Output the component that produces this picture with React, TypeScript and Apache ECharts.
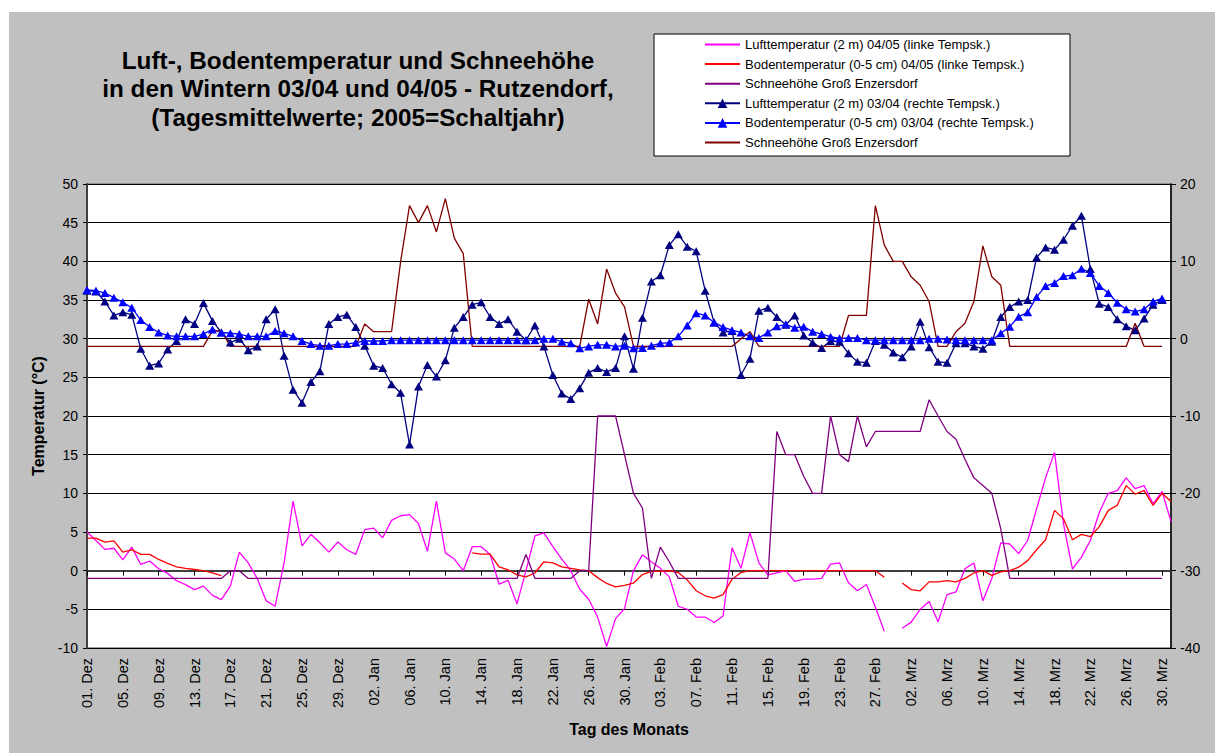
import React, { useEffect, useRef } from "react";
import * as echarts from "echarts";

const FONT = '"Liberation Sans", Arial, sans-serif';

const months: [string, number][] = [["Dez", 31], ["Jan", 31], ["Feb", 29], ["Mrz", 31]];
const categories: string[] = [];
months.forEach(([m, n]) => {
  for (let d = 1; d <= n; d++) categories.push(`${String(d).padStart(2, "0")}. ${m}`);
});

const titleLines = [
  "Luft-, Bodentemperatur und Schneehöhe",
  "in den Wintern 03/04 und 04/05 - Rutzendorf,",
  "(Tagesmittelwerte; 2005=Schaltjahr)",
];

const seriesNames = [
  "Lufttemperatur (2 m) 04/05 (linke Tempsk.)",
  "Bodentemperatur (0-5 cm) 04/05 (linke Tempsk.)",
  "Schneehöhe Groß Enzersdorf",
  "Lufttemperatur (2 m) 03/04 (rechte Tempsk.)",
  "Bodentemperatur (0-5 cm) 03/04 (rechte Tempsk.)",
  "Schneehöhe Groß Enzersdorf ",
];

const leftTicks = { min: -10, max: 50, interval: 5 };
const rightTicks = { min: -40, max: 20, interval: 10 };

// 04/05 — left scale
const air0405 = [
  5.0, 3.9, 2.75, 2.9, 1.4, 3.05, 0.8, 1.25, 0.25, -0.35,
  -1.3, -1.8, -2.45, -2.0, -3.2, -3.75, -2.0, 2.4, 1.0, -1.0,
  -3.9, -4.6, 1.0, 9.0, 3.2, 4.7, 3.6, 2.4, 3.7, 2.7,
  2.1, 5.3, 5.5, 4.25, 6.5, 7.1, 7.25, 6.1, 2.5, 9.0,
  2.3, 1.5, 0.0, 3.1, 3.1, 2.1, -1.75, -1.25, -4.3, 0.0,
  4.5, 4.9, 3.1, 1.5, 0.0, -2.4, -3.7, -6.0, -9.8, -6.2,
  -4.9, 0.0, 2.05, 1.15, 0.3, -0.8, -4.6, -5.0, -6.0, -6.0,
  -6.7, -5.85, 2.95, 0.3, 4.9, 1.0, -0.55, -0.3, 0.0, -1.4,
  -1.1, -1.1, -1.0, 0.85, 1.0, -1.55, -2.6, -1.8, -4.7, -7.85,
  null, -7.45, -6.65, -5.0, -4.0, -6.6, -3.1, -2.75, 0.25, 1.0,
  -3.9, -1.0, 3.6, 3.45, 2.2, 3.9, 8.0, 12.0, 15.3, 6.05,
  0.2, 1.75, 3.9, 7.55, 10.0, 10.35, 12.0, 10.6, 11.0, 8.65,
  10.25, 6.35,
];

const soil0405 = [
  4.2, 4.2, 3.7, 3.85, 2.4, 2.7, 2.1, 2.1, 1.45, 0.95,
  0.5, 0.3, 0.15, 0.0, -0.3, -0.65, null, null, null, null,
  null, null, null, null, null, null, null, null, null, null,
  null, null, null, null, null, null, null, null, null, null,
  null, null, null, 2.3, 2.15, 2.15, 0.5, 0.1, -0.55, -0.8,
  -0.3, 1.15, 1.0, 0.5, 0.3, 0.1, 0.0, -0.9, -1.65, -2.1,
  -1.9, -1.6, -0.5, -0.1, -0.1, 0.0, -0.25, -1.2, -2.6, -3.25,
  -3.55, -3.1, -1.1, -0.25, 0.0, 0.0, 0.0, 0.0, 0.0, 0.0,
  0.0, 0.0, 0.0, 0.0, 0.0, 0.0, 0.0, 0.0, 0.0, -0.85,
  null, -1.6, -2.45, -2.6, -1.45, -1.45, -1.3, -1.45, -1.0, -0.3,
  0.0, -0.6, -0.15, 0.0, 0.45, 1.3, 2.7, 4.0, 7.8, 6.7,
  4.0, 4.7, 4.4, 5.7, 7.8, 8.45, 11.0, 9.9, 10.35, 8.45,
  10.0, 8.95,
];

const snow0405 = [
  -1, -1, -1, -1, -1, -1, -1, -1, -1, -1,
  -1, -1, -1, -1, -1, -1, 0, 0, -1, -1,
  -1, -1, -1, -1, -1, -1, -1, -1, -1, -1,
  -1, -1, -1, -1, -1, -1, -1, -1, -1, -1,
  -1, -1, -1, -1, -1, -1, -1, -1, -1, 2.1,
  -1, -1, -1, -1, -1, 0, 0, 20, 20, 20,
  15, 10, 8.1, -1, 3.05, 1.15, -1, -1, -1, -1,
  -1, -1, -1, -1, -1, -1, -1, 18, 15, 15,
  12.2, 10, 10, 20, 15, 14.1, 20, 16, 18, 18,
  18, 18, 18, 18, 22.1, 20, 18, 17, 14.4, 12,
  11, 10, 5.4, -1, -1, -1, -1, -1, -1, -1,
  -1, -1, -1, -1, -1, -1, -1, -1, -1, -1,
  -1, null,
];

// 03/04 — right scale
const air0304 = [
  6.2, 6.1, 4.8, 3.0, 3.4, 3.1, -1.3, -3.5, -3.2, -1.4,
  -0.3, 2.5, 1.9, 4.6, 2.3, 0.8, -0.5, 0.0, -1.5, -1.0,
  2.5, 3.8, -2.2, -6.6, -8.3, -5.6, -4.2, 1.9, 2.8, 3.1,
  1.5, -0.9, -3.5, -3.8, -5.9, -7.0, -13.7, -6.2, -3.4, -4.9,
  -2.8, 1.4, 2.8, 4.4, 4.7, 2.8, 1.9, 2.5, 0.9, -0.2,
  1.7, -1.0, -4.7, -7.1, -7.8, -6.4, -4.4, -3.8, -4.3, -3.8,
  0.3, -3.9, 2.7, 7.4, 8.2, 12.1, 13.5, 11.9, 11.3, 6.2,
  2.1, 0.8, 1.0, -4.7, -2.6, 3.6, 4.0, 2.8, 1.8, 3.0,
  0.4, -0.5, -1.2, -0.3, -0.4, -1.9, -3.0, -3.1, -0.3, -0.8,
  -1.8, -2.4, -1.0, 2.2, -1.1, -3.0, -3.1, -0.6, -0.6, -1.0,
  -1.3, -0.4, 2.8, 4.1, 4.8, 5.0, 10.5, 11.8, 11.5, 12.8,
  14.6, 15.9, 9.0, 4.5, 4.1, 2.5, 1.6, 1.1, 2.6, 4.4,
  5.0, null,
];

const soil0304 = [
  6.3, 6.2, 5.9, 5.3, 4.7, 4.0, 2.4, 1.5, 0.8, 0.4,
  0.3, 0.3, 0.3, 0.6, 1.2, 0.8, 0.7, 0.6, 0.3, 0.3,
  0.3, 1.0, 0.7, 0.3, -0.3, -0.7, -0.9, -0.9, -0.7, -0.7,
  -0.5, -0.3, -0.3, -0.3, -0.2, -0.2, -0.2, -0.2, -0.2, -0.2,
  -0.2, -0.2, -0.2, -0.2, -0.2, -0.2, -0.2, -0.2, -0.2, -0.2,
  -0.2, 0.0, 0.0, -0.4, -0.6, -1.25, -1.0, -0.8, -0.8, -1.0,
  -0.9, -1.25, -1.2, -0.9, -0.6, -0.5, 0.3, 1.7, 3.3, 3.0,
  2.1, 1.5, 1.1, 0.8, 0.3, 0.1, 0.8, 1.6, 1.85, 1.4,
  1.55, 0.9, 0.6, 0.26, 0.05, 0.1, 0.1, -0.2, -0.2, -0.2,
  -0.2, -0.2, -0.2, -0.2, 0.0, 0.0, -0.1, -0.2, -0.2, -0.2,
  -0.2, -0.2, 0.7, 1.55, 2.85, 3.4, 5.4, 6.8, 7.2, 8.1,
  8.2, 9.05, 8.5, 6.8, 5.9, 4.65, 3.8, 3.5, 3.8, 4.8,
  5.2, null,
];

const snow0304 = [
  -1, -1, -1, -1, -1, -1, -1, -1, -1, -1,
  -1, -1, -1, -1, 1.0, 1.0, -1, -1, -1, -1,
  -1, -1, -1, -1, -1, -1, -1, -1, -1, -1,
  -1, 1.9, 0.9, 0.9, 0.9, 9.9, 17.2, 15.0, 17.2, 13.8,
  18.1, 13.0, 11.0, -1, -1, -1, -1, -1, -1, -1,
  -1, -1, -1, -1, -1, -1, 5.1, 1.9, 9.0, 5.9,
  4.1, -1, -1, -1, -1, -1, -1, -1, -1, -1,
  -1, -1, -1, 0.0, 0.9, -1, -1, -1, -1, -1,
  -1, -1, -1, -1, -1, 3.0, 3.0, 3.0, 17.2, 12.1,
  10.0, 10.0, 8.0, 6.9, 4.8, -1, -1, 0.9, 2.0, 4.8,
  12.0, 8.0, 6.9, -1, -1, -1, -1, -1, -1, -1,
  -1, -1, -1, -1, -1, -1, -1, 2.0, -1, -1,
  -1, null,
];

const colors = ["#FF00FF", "#FF0000", "#800080", "#000080", "#0000FF", "#800000"];

export default function App() {
  const ref = useRef<HTMLDivElement>(null);

  useEffect(() => {
    if (!ref.current) return;
    const chart = echarts.init(ref.current, undefined, { renderer: "svg" });

    const lineSeries = (idx: number, data: (number | null)[], yAxisIndex: number, marker: boolean) => ({
      name: seriesNames[idx],
      type: "line",
      data,
      yAxisIndex,
      connectNulls: false,
      symbol: marker ? "triangle" : "line",
      symbolSize: marker ? [9, 8] : 1,
      showSymbol: marker,
      showAllSymbol: true,
      lineStyle: { color: colors[idx], width: 1.3 },
      itemStyle: { color: colors[idx] },
      emphasis: { disabled: true },
    });

    chart.setOption({
      animation: false,
      backgroundColor: "#c0c0c0",
      textStyle: { fontFamily: FONT },
      graphic: titleLines.map((t, i) => ({
        type: "text",
        x: 349,
        y: 48 + i * 28.5,
        style: {
          text: t,
          fill: "#000",
          font: `bold 24.3px ${FONT}`,
          textAlign: "center",
          textVerticalAlign: "middle",
        },
      })),
      legend: {
        orient: "vertical",
        left: 645,
        top: 22,
        itemWidth: 35,
        itemHeight: 12,
        itemGap: 6.6,
        padding: [4, 36, 7, 50],
        backgroundColor: "#fff",
        borderColor: "#000",
        borderWidth: 1,
        textStyle: { fontSize: 13, color: "#000", fontFamily: FONT },
        data: seriesNames,
        selectedMode: false,
      },
      grid: {
        left: 78,
        right: 44,
        top: 172,
        bottom: 105,
        show: true,
        backgroundColor: "#fff",
        borderColor: "#808080",
        borderWidth: 1.5,
        containLabel: false,
      },
      tooltip: { show: false },
      xAxis: {
        type: "category",
        data: categories,
        boundaryGap: false,
        axisLine: { lineStyle: { color: "#404040", width: 2 } },
        axisTick: { interval: 3, length: 5, lineStyle: { color: "#000" } },
        axisLabel: { interval: 3, rotate: 90, margin: 10, fontSize: 14.5, color: "#000", fontFamily: FONT },
        splitLine: { show: false },
        name: "Tag des Monats",
        nameLocation: "middle",
        nameGap: 73,
        nameTextStyle: { fontWeight: "bold", fontSize: 16, color: "#000", fontFamily: FONT },
      },
      yAxis: [
        {
          type: "value",
          position: "left",
          min: leftTicks.min,
          max: leftTicks.max,
          interval: leftTicks.interval,
          axisLine: { show: true, lineStyle: { color: "#404040", width: 2 } },
          axisTick: { show: true, length: 4, lineStyle: { color: "#000" } },
          axisLabel: { fontSize: 14, color: "#000", margin: 9, fontFamily: FONT },
          splitLine: { show: true, lineStyle: { color: "#000", width: 1 } },
          name: "Temperatur (°C)",
          nameLocation: "middle",
          nameGap: 41,
          nameTextStyle: { fontWeight: "bold", fontSize: 16, color: "#000", fontFamily: FONT },
        },
        {
          type: "value",
          position: "right",
          min: rightTicks.min,
          max: rightTicks.max,
          interval: rightTicks.interval,
          axisLine: { show: true, lineStyle: { color: "#000", width: 1.5 } },
          axisTick: { show: true, length: 5, lineStyle: { color: "#000" } },
          axisLabel: { fontSize: 14, color: "#000", margin: 9, fontFamily: FONT },
          splitLine: { show: false },
        },
      ],
      series: [
        lineSeries(0, air0405, 0, false),
        lineSeries(1, soil0405, 0, false),
        lineSeries(2, snow0405, 0, false),
        lineSeries(3, air0304, 1, true),
        lineSeries(4, soil0304, 1, true),
        lineSeries(5, snow0304, 1, false),
      ],
    });

    return () => chart.dispose();
  }, []);

  return (
    <div style={{ position: "fixed", left: 0, top: 0, width: 1215, height: 753, background: "#fff" }}>
      <div ref={ref} style={{ position: "absolute", left: 9, top: 12, width: 1206, height: 741 }} />
    </div>
  );
}
